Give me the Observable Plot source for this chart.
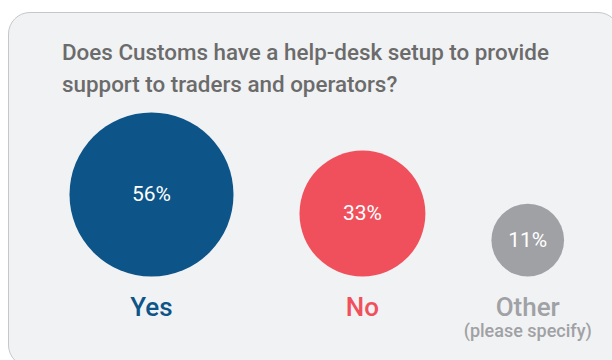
<!DOCTYPE html>
<html>
<head>
<meta charset="utf-8">
<script src="https://cdn.jsdelivr.net/npm/d3@7"></script>
<script src="https://cdn.jsdelivr.net/npm/@observablehq/plot@0.6"></script>
<style>
  html, body { margin: 0; padding: 0; background: #ffffff; width: 612px; height: 360px; overflow: hidden; position: relative; font-family: Roboto, "Noto Sans", sans-serif; }
  #box { position: absolute; left: 8px; top: 12px; width: 612px; height: 355px; box-sizing: border-box; border: 1.5px solid #c6c7ca; border-radius: 22px; background: #f1f2f4; }
  #title { position: absolute; left: 62px; top: 36px; width: 545px; font-size: 22.4px; line-height: 32px; font-weight: 500; color: #6b6b6b; }
  #chart { position: absolute; left: 0; top: 0; }
</style>
</head>
<body>
<div id="box"></div>
<div id="title">Does Customs have a help-desk setup to provide support to traders and operators?</div>
<div id="chart"></div>
<script>
const categories = ["Yes", "No", "Other"];
const values = [56, 33, 11];
const sublabels = ["", "", "(please specify)"];
const colors = ["#0d5488", "#f0505c", "#a0a1a4"];

// layout constants (pixels)
const W = 612, H = 360;
const leftEdge = 69, gap = 66, baseline = 276;
const rScale = Plot.scale({r: {domain: [0, 56], range: [0, 82]}});

let cursor = leftEdge;
const data = categories.map((c, i) => {
  const r = rScale.apply(values[i]);
  const cx = cursor + r;
  cursor = cx + r + gap;
  return {category: c, value: values[i], sub: sublabels[i], color: colors[i], cx, cy: baseline - r};
});

const chart = Plot.plot({
  width: W,
  height: H,
  margin: 0,
  x: {domain: [0, W], range: [0, W], axis: null},
  y: {domain: [0, H], range: [0, H], axis: null},
  r: {domain: [0, 56], range: [0, 82]},
  style: {background: "transparent", fontFamily: "Roboto, 'Noto Sans', sans-serif"},
  marks: [
    Plot.dot(data, {x: "cx", y: "cy", r: "value", fill: "color", stroke: null}),
    Plot.text(data, {x: "cx", y: "cy", text: d => d.value + "%", fill: "white", fontSize: 21, fontWeight: 400}),
    Plot.text(data, {x: "cx", y: () => 315, text: "category", fill: "color", fontSize: 26, fontWeight: 500, lineAnchor: "bottom"}),
    Plot.text(data, {x: "cx", y: () => 336, text: "sub", fill: "color", fontSize: 18, fontWeight: 500, lineAnchor: "bottom"})
  ]
});
document.getElementById("chart").appendChild(chart);
</script>
</body>
</html>
